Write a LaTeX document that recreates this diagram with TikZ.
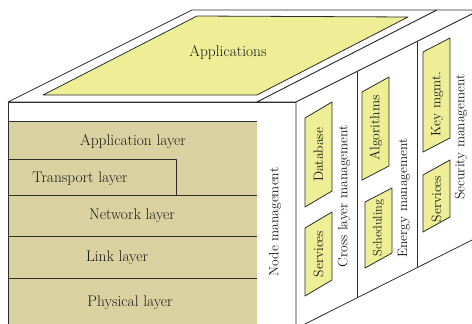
\documentclass[tikz,border=0pt]{standalone}
\definecolor{tanfill}{RGB}{217,209,160}
\definecolor{appyel}{RGB}{238,238,150}
\definecolor{ln}{RGB}{45,45,45}
\definecolor{tx}{RGB}{25,25,25}
\begin{document}
\begin{tikzpicture}[x=1pt,y=-1pt,line join=round,
  edge/.style={draw=ln,line width=0.8pt},
  yelbox/.style={edge,fill=appyel},
  layertext/.style={font=\fontsize{15.4}{17}\selectfont,text=tx,inner sep=0pt},
  sidetext/.style={font=\fontsize{13.6}{16}\selectfont,text=tx,inner sep=0pt,rotate=90},
  boxtext/.style={font=\fontsize{13.6}{16}\selectfont,text=tx,inner sep=0pt,rotate=90}]
\useasboundingbox (0,0) rectangle (472,324);
\clip (0,0) rectangle (472,324);
% top face
\draw[edge,fill=white] (8,102) -- (192,10) -- (437,10) -- (257,102) -- cycle;
\draw[yelbox] (43,95) -- (197,16) -- (408,17) -- (257,95) -- cycle;
\node[layertext] (apps) at (228,53) {Applications};
% node management top strip
\draw[edge,fill=white] (257,102) -- (437,10) -- (480,10) -- (296,102) -- cycle;
% front face
\fill[white] (8,102) rectangle (257,330);
\fill[tanfill] (8,121) rectangle (257,330);
\draw[edge] (8,102) -- (8,330);
\draw[edge] (257,102) -- (257,330);
\draw[edge] (8,102) -- (257,102);
\draw[edge] (8,121) -- (257,121);
\draw[edge] (8,159) -- (176,159) -- (176,195);
\draw[edge] (8,195) -- (257,195);
\draw[edge] (8,236) -- (257,236);
\draw[edge] (8,278) -- (257,278);
\node[layertext] (al) at (133,142) {Application layer};
\node[layertext] (tl) at (80,179) {Transport layer};
\node[layertext] (nl) at (132,216) {Network layer};
\node[layertext] (ll) at (117,258) {Link layer};
\node[layertext] (pl) at (130,303) {Physical layer};
% node management front strip
\draw[edge,fill=white] (257,102) -- (296,102) -- (296,330) -- (257,330);
\node[sidetext] (nm) at (275,222) {Node management};
% right face
\draw[edge,fill=white] (296,102) -- (500,0) -- (500,226) -- (296,328.5) -- cycle;
\draw[edge] (357,71.5) -- (357,298);
\draw[edge] (417,41.5) -- (417,268);
% cross layer panel
\draw[yelbox] (305,118) -- (332,102) -- (332,191) -- (305,207) -- cycle;
\node[boxtext] (db) at (318.5,155) {Database};
\draw[yelbox] (305,228) -- (332,212) -- (332,280) -- (305,296) -- cycle;
\node[boxtext] (sv1) at (318.5,254) {Services};
\node[sidetext] (clm) at (344,196) {Cross layer management};
% energy panel
\draw[yelbox] (362,92) -- (389,77) -- (389,166) -- (362,180) -- cycle;
\node[boxtext] (alg) at (376,128) {Algorithms};
\draw[yelbox] (365,202) -- (392,188) -- (392,253) -- (365,268) -- cycle;
\node[boxtext,font=\fontsize{12.4}{14}\selectfont] (sch) at (378.5,228) {Scheduling};
\node[sidetext] (em) at (404,198) {Energy management};
% security panel
\draw[yelbox] (423,52) -- (450,38) -- (450,138) -- (423,152) -- cycle;
\node[boxtext] (km) at (437,104) {Key mgmt.};
\draw[yelbox] (423,175) -- (450,160) -- (450,217) -- (423,232) -- cycle;
\node[boxtext] (sv2) at (436.5,199) {Services};
\node[sidetext] (sm) at (461,137) {Security management};
\end{tikzpicture}
\end{document}
